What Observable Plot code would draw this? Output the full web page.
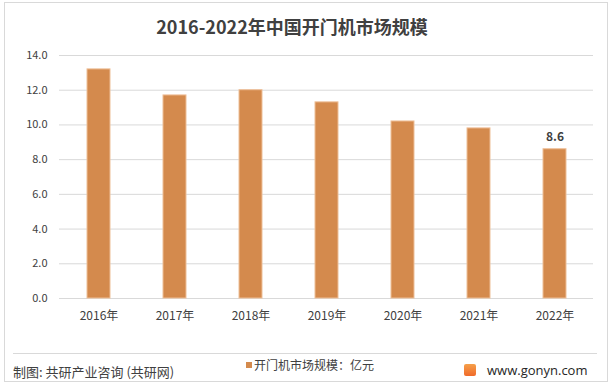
<!DOCTYPE html>
<html>
<head>
<meta charset="utf-8">
<script src="https://cdn.jsdelivr.net/npm/d3@7"></script>
<script src="https://cdn.jsdelivr.net/npm/@observablehq/plot@0.6"></script>
<style>
  html, body { margin: 0; padding: 0; background: #fff; }
  #wrap { position: relative; width: 614px; height: 388px; overflow: hidden; font-family: "Noto Sans CJK SC", "Noto Sans", sans-serif; }
  #frame { position: absolute; left: 4px; top: 2px; width: 604px; height: 380px; border: 1px solid #d9d9d9; box-sizing: border-box; }
  #title { position: absolute; left: 0; width: 584px; top: 13px; text-align: center; font-size: 18px; font-weight: bold; color: #404040; line-height: 26px; }
  #chart { position: absolute; left: 0; top: 0; }
  #sep { position: absolute; left: 13px; width: 584px; top: 353px; height: 1px; background: #d9d9d9; }
  #source { position: absolute; left: 13px; top: 362px; font-size: 13px; color: #404040; line-height: 20px; }
  #legend { position: absolute; left: 246px; top: 356px; font-size: 12px; color: #404040; line-height: 18px; }
  #legend .sw { display: inline-block; width: 6px; height: 6px; background: #d48a4d; margin-right: 2px; vertical-align: 2px; }
  #site { position: absolute; left: 464px; top: 360px; font-size: 13px; color: #262626; line-height: 20px; font-family: "Open Sans", "Noto Sans", sans-serif; }
  #site .logo { display: inline-block; width: 12px; height: 12px; background: linear-gradient(#f5a04a, #f06a2a); border-radius: 2px; vertical-align: -1px; margin-right: 11px; }
</style>
</head>
<body>
<div id="wrap">
  <div id="frame"></div>
  <div id="chart"></div>
  <div id="title">2016-2022年中国开门机市场规模</div>
  <div id="sep"></div>
  <div id="source">制图: 共研产业咨询 (共研网)</div>
  <div id="legend"><span class="sw"></span>开门机市场规模：亿元</div>
  <div id="site"><span class="logo"></span>www.gonyn.com</div>
</div>
<script>
const years = ["2016年", "2017年", "2018年", "2019年", "2020年", "2021年", "2022年"];
const values = [13.2, 11.7, 12.0, 11.3, 10.2, 9.8, 8.6];
const yTicks = [0, 2, 4, 6, 8, 10, 12, 14];
const labeledYears = ["2022年"];

const data = years.map((y, i) => ({year: y, value: values[i]}));

const chart = Plot.plot({
  width: 614,
  height: 330,
  marginTop: 55,
  marginBottom: 32,
  marginLeft: 59,
  marginRight: 21,
  style: {fontFamily: '"Noto Sans CJK SC", "Noto Sans", sans-serif', fontSize: "11px", color: "#404040", background: "transparent"},
  x: {domain: years, paddingInner: 0.7, paddingOuter: 0.36, label: null},
  y: {domain: [0, 14], ticks: yTicks, label: null},
  marks: [
    Plot.gridY(yTicks, {stroke: "#d9d9d9", strokeOpacity: 1}),
    Plot.barY(data, {x: "year", y: "value", fill: "#d48a4d", stroke: "#eebf98", strokeWidth: 1}),
    Plot.axisY({ticks: yTicks, tickSize: 0, tickPadding: 12, tickFormat: d3.format(".1f"), label: null, fill: "#404040"}),
    Plot.axisX({tickSize: 0, tickPadding: 13, label: null, fill: "#404040", fontSize: 12}),
    Plot.text(data.filter(d => labeledYears.includes(d.year)), {x: "year", y: "value", text: d => d3.format(".1f")(d.value), dy: -12, fontWeight: "bold", fill: "#404040", fontSize: 12})
  ]
});
document.getElementById("chart").appendChild(chart);
</script>
</body>
</html>
